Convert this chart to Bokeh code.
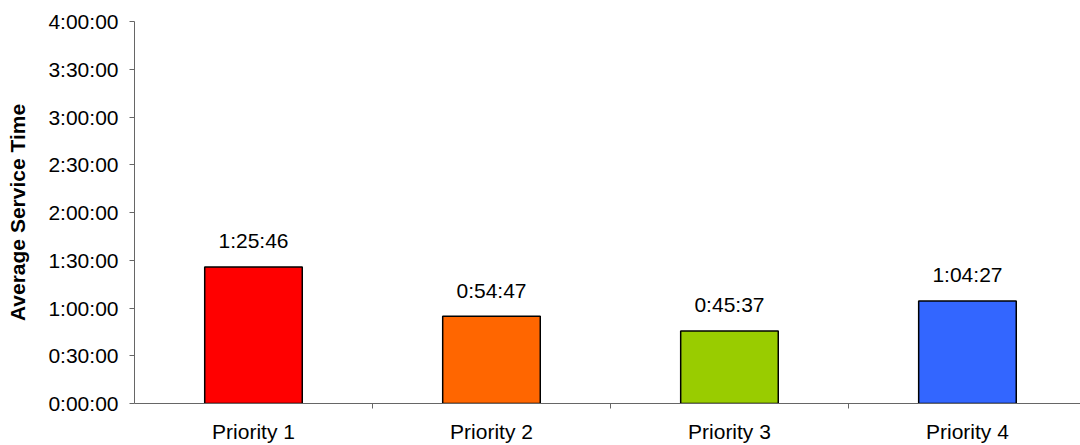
from bokeh.plotting import figure
from bokeh.models import ColumnDataSource, Range1d, FixedTicker
from bokeh.core.properties import value
from bokeh.embed import file_html
from bokeh.resources import INLINE

# ---- data ----
categories = ["Priority 1", "Priority 2", "Priority 3", "Priority 4"]
service_seconds = [5146, 3287, 2737, 3867]          # 1:25:46, 0:54:47, 0:45:37, 1:04:27
value_labels = ["1:25:46", "0:54:47", "0:45:37", "1:04:27"]
bar_colors = ["#FF0000", "#FF6600", "#99CC00", "#3366FF"]
y_tick_seconds = [0, 1800, 3600, 5400, 7200, 9000, 10800, 12600, 14400]
y_tick_labels = ["0:00:00", "0:30:00", "1:00:00", "1:30:00", "2:00:00",
                 "2:30:00", "3:00:00", "3:30:00", "4:00:00"]

FONT = "Liberation Sans"

xs = [i + 0.5 for i in range(len(categories))]
src = ColumnDataSource(dict(x=xs, y=service_seconds, color=bar_colors, label=value_labels))

p = figure(width=1080, height=445, output_backend="svg", toolbar_location=None,
           x_range=Range1d(0, 3.975), y_range=Range1d(0, 14400),
           min_border_left=134, min_border_right=0, min_border_top=21, min_border_bottom=41)
p.outline_line_color = None
p.xgrid.visible = False
p.ygrid.visible = False
p.background_fill_color = "white"
p.border_fill_color = "white"

p.vbar(x="x", top="y", width=0.41, bottom=0, source=src, fill_color="color",
       line_color="black", line_width=1.5)

p.text(x="x", y="y", text="label", source=src, text_align="center",
       text_baseline="alphabetic", y_offset=-26, text_font=value(FONT),
       text_font_size="21px", text_color="black")

# x axis
xa = p.xaxis[0]
xa.ticker = FixedTicker(ticks=xs, minor_ticks=[1, 2, 3])
xa.major_label_overrides = {x: c for x, c in zip(xs, categories)}
xa.major_tick_line_color = None
xa.major_tick_out = 0
xa.major_tick_in = 0
xa.minor_tick_out = 5
xa.minor_tick_in = 0
xa.minor_tick_line_color = "#666666"
xa.axis_line_color = "#666666"
xa.major_label_text_font = FONT
xa.major_label_text_font_size = "21px"
xa.major_label_text_color = "black"
xa.major_label_standoff = 11

# y axis
ya = p.yaxis[0]
ya.ticker = FixedTicker(ticks=y_tick_seconds, minor_ticks=[])
ya.major_label_overrides = {t: l for t, l in zip(y_tick_seconds, y_tick_labels)}
ya.major_tick_out = 5
ya.major_tick_in = 0
ya.major_tick_line_color = "#666666"
ya.axis_line_color = "#666666"
ya.major_label_text_font = FONT
ya.major_label_text_font_size = "21px"
ya.major_label_text_color = "black"
ya.major_label_standoff = 11
ya.axis_label = "Average Service Time"
ya.axis_label_text_font = FONT
ya.axis_label_text_font_size = "21px"
ya.axis_label_text_font_style = "bold"
ya.axis_label_text_color = "black"
ya.axis_label_standoff = 16

open("out.html", "w").write(file_html(p, INLINE))
